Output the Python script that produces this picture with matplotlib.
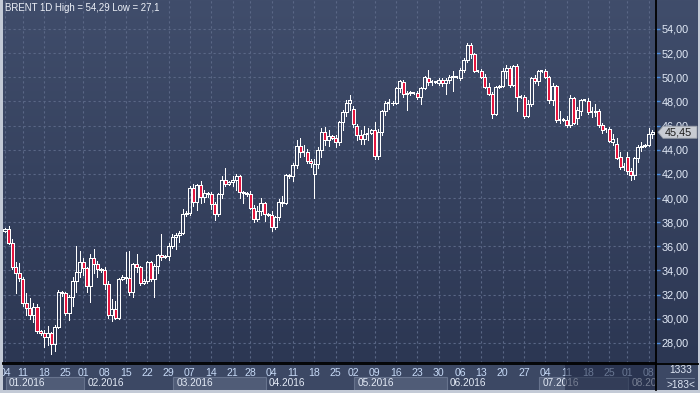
import numpy as np
import pandas as pd
import matplotlib
import matplotlib.pyplot as plt
import matplotlib.transforms as mtransforms
from matplotlib.colors import LinearSegmentedColormap
from matplotlib.patches import Rectangle, Polygon

plt.rcParams['font.family'] = ['Liberation Sans', 'DejaVu Sans']

# ---- data: BRENT daily bars (Sun short sessions included), Jan 4 - Aug 9 2016
days = pd.date_range('2016-01-04', '2016-08-09', freq='D')
skip = pd.to_datetime(['2016-01-10', '2016-01-31', '2016-03-25', '2016-05-01', '2016-07-31'])
dates = days[(days.dayofweek != 5) & ~days.isin(skip)]

opens = [
    37.30, 37.40, 36.30, 34.30, 33.80,
    33.30, 31.30, 30.90, 30.30, 31.00,
    29.00, 28.80, 28.50, 28.80, 27.90, 29.30,
    32.20, 32.10, 30.50, 31.80, 33.10, 33.90,
    34.70, 34.20, 32.70, 35.00, 34.50,
    34.10, 34.00, 32.90, 30.30, 30.80, 30.10,
    33.30, 33.50, 33.40, 32.20, 34.50, 34.30,
    33.00, 33.10, 34.70, 33.30, 34.40, 35.30,
    35.10, 35.20, 36.00, 36.80, 36.90, 37.10,
    38.70, 38.80, 40.80, 39.70, 41.10, 40.10,
    40.40, 40.30, 39.50, 38.70, 40.30, 41.50,
    41.20, 41.30, 41.50, 41.80, 40.50,
    40.40, 40.30, 39.20, 38.30, 38.90, 39.60,
    38.70, 38.60, 37.60, 38.40, 39.70, 39.60,
    41.90, 41.80, 42.70, 44.30, 43.80, 43.80,
    43.10, 42.00, 42.80, 44.00, 45.50, 44.80,
    45.10, 45.00, 44.60, 46.30, 47.10, 47.90,
    47.40, 46.00, 45.20, 44.90, 45.30,
    45.40, 45.60, 43.50, 45.50, 47.20, 47.90,
    47.90, 47.85, 49.10, 49.60, 48.60, 48.70,
    48.70, 48.70, 48.40, 49.10, 49.90, 49.60,
    49.60, 49.50, 49.80, 49.50, 49.80, 50.00,
    50.00, 49.90, 50.60, 51.40, 52.70, 51.90,
    50.50, 50.50, 50.00, 49.20, 48.60, 47.00,
    49.20, 49.30, 50.50, 50.80, 49.40, 50.90,
    48.40, 48.40, 46.80, 47.80, 49.90, 49.70,
    50.50, 50.50, 50.05, 48.10, 49.30, 46.50,
    46.50, 46.50, 46.05, 48.30, 46.60, 47.20,
    48.10, 48.00, 47.10, 47.10, 47.20, 46.05,
    45.70, 45.70, 44.60, 44.50, 43.40, 42.60,
    43.40, 42.20, 41.90, 43.30, 44.20,
    44.30, 44.40, 45.30,
]
highs = [
    37.55, 37.70, 36.60, 34.70, 34.60,
    33.50, 32.10, 31.70, 31.30, 31.20,
    29.10, 29.10, 29.40, 28.90, 29.50, 32.40,
    32.30, 32.20, 32.00, 33.50, 36.00, 35.60,
    35.00, 34.30, 35.40, 35.80, 34.80,
    34.20, 34.30, 33.10, 31.60, 31.50, 33.40,
    33.60, 35.50, 35.60, 34.60, 35.40, 34.40,
    33.30, 34.80, 34.80, 34.50, 35.40, 37.00,
    35.30, 36.30, 37.00, 37.10, 37.30, 39.10,
    38.90, 41.00, 41.20, 41.20, 41.40, 40.70,
    40.50, 40.50, 39.70, 40.40, 41.80, 42.50,
    41.40, 41.80, 42.00, 41.90, 40.60,
    40.50, 40.60, 39.40, 39.30, 40.00, 39.70,
    38.80, 38.90, 38.50, 39.90, 40.20, 42.00,
    42.00, 42.90, 44.80, 45.00, 44.40, 44.10,
    43.20, 43.20, 44.20, 45.80, 45.90, 45.60,
    45.20, 45.20, 46.40, 47.30, 48.10, 48.50,
    47.60, 46.10, 45.60, 46.00, 45.80,
    45.70, 46.30, 45.70, 47.30, 48.00, 48.20,
    48.00, 49.20, 49.80, 49.80, 48.90, 48.90,
    48.80, 48.90, 49.20, 50.10, 50.60, 49.80,
    49.70, 49.90, 49.90, 49.90, 50.20, 50.50,
    50.10, 50.80, 51.60, 52.86, 52.80, 52.00,
    50.60, 50.70, 50.30, 49.50, 48.80, 49.30,
    49.40, 50.80, 51.00, 50.90, 51.00, 51.10,
    48.50, 48.50, 48.10, 50.00, 50.20, 50.60,
    50.60, 50.70, 50.10, 49.50, 49.40, 47.20,
    46.60, 46.80, 48.50, 48.40, 47.50, 48.20,
    48.20, 48.30, 47.50, 47.80, 47.40, 46.20,
    45.80, 45.90, 45.30, 45.00, 43.80, 42.90,
    43.80, 42.50, 43.40, 44.40, 44.60,
    44.50, 45.80, 45.60,
]
lows = [
    37.20, 36.20, 34.10, 32.16, 33.10,
    31.10, 30.30, 29.95, 29.70, 28.80,
    28.70, 27.70, 27.80, 27.10, 27.30, 29.20,
    31.90, 30.30, 29.90, 31.10, 32.20, 33.50,
    33.60, 32.20, 31.40, 33.80, 33.50,
    33.90, 32.50, 30.10, 29.80, 30.00, 30.00,
    33.20, 33.00, 32.00, 31.80, 33.90, 32.80,
    32.90, 33.00, 33.10, 31.80, 33.80, 34.90,
    35.00, 34.90, 35.90, 35.80, 36.40, 37.00,
    38.50, 38.60, 39.30, 39.00, 39.60, 39.70,
    40.10, 39.10, 38.20, 38.50, 40.00, 41.00,
    41.10, 41.00, 40.70, 40.00, 39.60,
    40.20, 39.10, 38.00, 38.10, 38.60, 38.10,
    38.50, 37.30, 37.40, 38.20, 39.30, 39.50,
    41.70, 41.40, 42.50, 43.40, 43.50, 42.90,
    42.60, 40.00, 42.50, 43.40, 44.40, 44.30,
    44.90, 44.20, 44.40, 45.60, 46.80, 47.30,
    45.90, 44.80, 44.50, 44.50, 44.80,
    45.30, 43.20, 43.20, 45.20, 46.90, 47.40,
    47.70, 47.80, 48.80, 48.40, 47.30, 48.50,
    48.60, 48.20, 47.80, 49.00, 49.40, 49.40,
    49.50, 49.40, 49.30, 48.60, 49.50, 48.90,
    49.90, 49.80, 50.40, 51.30, 51.60, 50.40,
    50.40, 49.90, 49.10, 48.50, 46.60, 46.90,
    49.10, 49.20, 49.90, 49.20, 49.30, 47.20,
    48.30, 46.60, 46.70, 47.60, 49.50, 49.40,
    50.40, 49.90, 47.90, 47.70, 46.30, 46.20,
    46.40, 45.90, 45.90, 46.10, 46.10, 46.90,
    48.00, 47.00, 46.70, 46.80, 45.90, 45.40,
    45.50, 44.60, 44.40, 43.20, 42.40, 42.30,
    42.00, 41.50, 41.60, 43.00, 43.90,
    44.20, 44.30, 45.00,
]
closes = [
    37.40, 36.30, 34.30, 33.80, 33.40,
    31.30, 30.90, 30.30, 31.00, 29.00,
    28.80, 28.50, 28.80, 27.90, 29.30, 32.20,
    32.10, 30.50, 31.80, 33.10, 33.90, 34.70,
    34.20, 32.70, 35.00, 34.50, 34.10,
    34.00, 32.90, 30.30, 30.80, 30.10, 33.30,
    33.50, 33.40, 32.20, 34.50, 34.30, 33.00,
    33.10, 34.70, 33.30, 34.40, 35.30, 35.10,
    35.20, 36.00, 36.80, 36.90, 37.10, 38.70,
    38.80, 40.80, 39.70, 41.10, 40.10, 40.40,
    40.30, 39.50, 38.70, 40.30, 41.50, 41.20,
    41.30, 41.50, 41.80, 40.50, 40.40,
    40.30, 39.20, 38.30, 38.90, 39.60, 38.70,
    38.60, 37.60, 38.40, 39.70, 39.60, 41.90,
    41.80, 42.70, 44.30, 43.80, 43.80, 43.10,
    42.90, 42.80, 44.00, 45.50, 44.80, 45.10,
    45.00, 44.60, 46.30, 47.10, 47.90, 48.10,
    46.10, 45.20, 44.90, 45.30, 45.30,
    45.60, 43.50, 45.50, 47.20, 47.90, 47.90,
    47.85, 49.10, 49.70, 48.60, 48.70, 48.75,
    48.70, 48.40, 49.10, 50.00, 49.60, 49.60,
    49.60, 49.80, 49.50, 49.80, 50.00, 50.10,
    50.00, 50.60, 51.40, 52.70, 51.90, 50.50,
    50.50, 50.00, 49.20, 48.60, 47.00, 49.20,
    49.30, 50.50, 50.80, 49.40, 50.90, 48.40,
    48.40, 46.80, 47.80, 49.90, 49.70, 50.50,
    50.50, 50.05, 48.10, 49.30, 46.50, 46.55,
    46.50, 46.05, 48.30, 46.20, 47.30, 48.10,
    48.10, 47.10, 47.15, 47.20, 46.05, 45.60,
    45.70, 44.70, 44.90, 43.30, 42.60, 42.60,
    42.20, 41.90, 43.30, 44.20, 44.30,
    44.40, 45.30, 45.45,
]
price_ticks = list(range(28, 56, 2))
title = 'BRENT 1D High = 54,29 Low = 27,1'
bars_total, bars_shown = '1333', '>183<'

df = pd.DataFrame({'open': opens, 'high': highs, 'low': lows, 'close': closes}, index=dates)
idx = np.arange(len(df))

# ---- layout (pixels, origin top-left)
W, H = 700, 393
L, T, R, B = 3, 0, 698, 390
PX, PB = 656, 363


def box(x0, y0, x1, y1):
    return [x0 / W, 1 - y1 / H, (x1 - x0) / W, (y1 - y0) / H]


fig = plt.figure(figsize=(W / 100, H / 100), dpi=100)
fig.patch.set_facecolor('#c3cad6')

# gradient background behind plot + price scale
bg = fig.add_axes(box(L, T, R, PB))
cmap = LinearSegmentedColormap.from_list('bg', ['#404d6b', '#2c3753'])
bg.imshow(np.linspace(0, 1, 256)[:, None], aspect='auto', cmap=cmap, extent=[0, 1, 0, 1])
bg.set_axis_off()

ax = fig.add_axes(box(L, T, PX, PB))
ax.set_facecolor('none')
ax.set_xlim(-0.56, 183.1)
ax.set_ylim(26.34, 56.40)

mondays = idx[df.index.dayofweek == 0]
ax.set_xticks(mondays)
ax.set_xticklabels([])
ax.set_yticks(price_ticks)
ax.set_yticklabels(['%d,00' % p for p in price_ticks])
ax.yaxis.tick_right()
ax.tick_params(axis='x', length=0)
ax.tick_params(axis='y', length=3, width=1, color='#4b8ee0', labelcolor='#e3ebf8',
               labelsize=7.8, pad=1)
ax.grid(True, ls=(0, (2, 2.5)), color='#5a6786', lw=0.8)
ax.set_axisbelow(True)
for s in ['top', 'left']:
    ax.spines[s].set_visible(False)
ax.spines['right'].set_color('black')
ax.spines['right'].set_linewidth(1.3)
ax.spines['bottom'].set_color('black')
ax.spines['bottom'].set_linewidth(1.3)

# candles: hollow white when up, red filled when down
w = 0.85
px1 = 0.72
for i, (o, h, l, c) in enumerate(zip(df['open'], df['high'], df['low'], df['close'])):
    lo, hi = min(o, c), max(o, c)
    ax.vlines(i, hi, h, color='white', lw=px1, antialiased=False, zorder=3)
    ax.vlines(i, l, lo, color='white', lw=px1, antialiased=False, zorder=3)
    if c < o:
        ax.add_patch(Rectangle((i - w / 2, lo), w, hi - lo, facecolor='#e5163f',
                               edgecolor='white', lw=px1, antialiased=False, zorder=4))
    elif hi - lo < 0.08:
        ax.hlines(lo, i - w / 2, i + w / 2, color='white', lw=1.2, antialiased=False, zorder=4)
    else:
        ax.add_patch(Rectangle((i - w / 2, lo), w, hi - lo, facecolor='none',
                               edgecolor='white', lw=px1, antialiased=False, zorder=4))

# time strip
strip = fig.add_axes(box(L, PB, PX, B))
strip.set_xlim(ax.get_xlim())
strip.set_ylim(B - PB, 0)
strip.set_facecolor('#3c4864')
strip.set_xticks([])
strip.set_yticks([])
for s in strip.spines.values():
    s.set_visible(False)

for i in mondays:
    strip.text(i, 9.5, df.index[i].strftime('%d'), ha='center', va='center',
               fontsize=7.6, color='#c6d9f6', clip_on=True)

month_start = idx[np.r_[True, df.index.month[1:] != df.index.month[:-1]]]
month_end = np.r_[month_start[1:], len(df) + 2]
for k, (a, b) in enumerate(zip(month_start, month_end)):
    if k % 2 == 0:
        strip.add_patch(Rectangle((a + 0.3, 14), b - a, 13, facecolor='#505c77',
                                  edgecolor='#67738d', lw=0.8, clip_on=True))
    tr = mtransforms.offset_copy(strip.transData, fig=fig, x=3, y=0, units='dots')
    strip.text(a + 0.3, 20.5, df.index[a].strftime('%m.%Y'), ha='left', va='center',
               fontsize=7.3, color='#e3eaf6', transform=tr, clip_on=True)

# darker overlay at the right end of the strip
strip.add_patch(Rectangle((157.5, 0), 40, B - PB, facecolor='#1c2540', alpha=0.55,
                          lw=0, zorder=5))

# UI layer in pixels
ui = fig.add_axes([0, 0, 1, 1])
ui.set_xlim(0, W)
ui.set_ylim(H, 0)
ui.set_axis_off()
ui.patch.set_alpha(0)

ui.add_patch(Rectangle((PX, PB), R - PX, B - PB, facecolor='#3c4864', lw=0))
ui.plot([L, R], [PB + 0.5, PB + 0.5], color='black', lw=1.3)
ui.plot([PX + 0.3, PX + 0.3], [PB, B], color='black', lw=1.3)
ui.text(681, 370, bars_total, ha='center', va='center', fontsize=7.3, color='#dfe7f5')
ui.plot([666, 694], [378, 378], color='#76839c', lw=0.6)
ui.text(681, 385.5, bars_shown, ha='center', va='center', fontsize=7.3, color='#dfe7f5')

ui.text(5, 8, title, ha='left', va='center', fontsize=6.9, color='#edf1f8')

# last price marker
last = df['close'].iloc[-1]
yp = H - ax.transData.transform((0, last))[1]
ui.add_patch(Polygon([(658, yp), (663, yp - 6), (697, yp - 6), (697, yp + 6), (663, yp + 6)],
                     closed=True, facecolor='#c8ccd3', edgecolor='#9ba1aa', lw=0.6))
ui.text(665, yp, ('%.2f' % last).replace('.', ','), ha='left', va='center',
        fontsize=7.8, color='#1b1b1b')

fig.savefig('out.png', dpi=100, facecolor=fig.get_facecolor())
